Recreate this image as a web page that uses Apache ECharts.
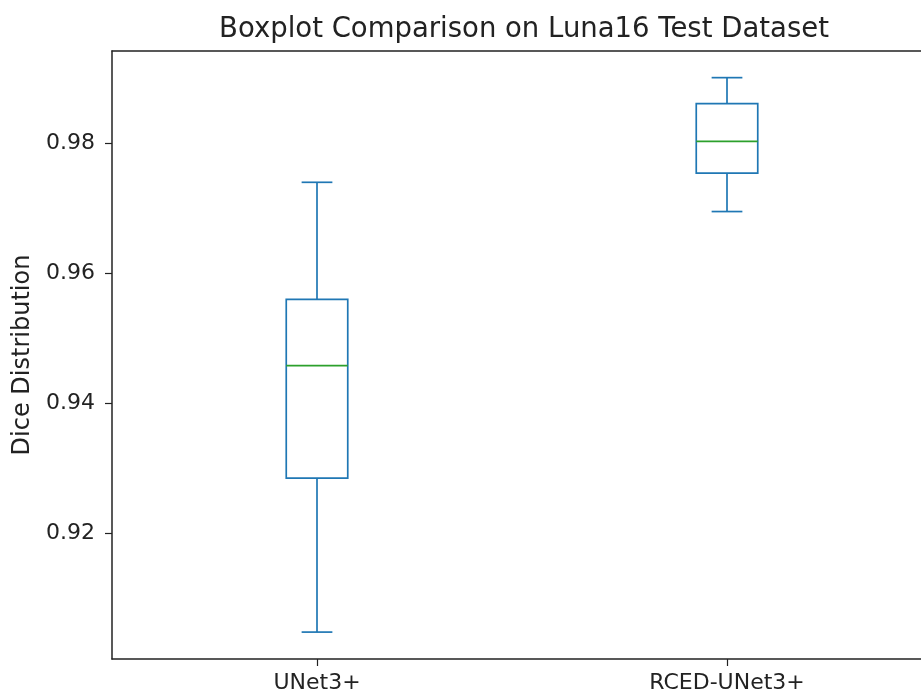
<!DOCTYPE html>
<html>
<head>
<meta charset="utf-8">
<script src="https://cdn.jsdelivr.net/npm/echarts@6/dist/echarts.min.js"></script>
<style>
html,body{margin:0;padding:0;background:#fff;overflow:hidden;width:921px;height:700px;}
#chart{width:940px;height:700px;}
</style>
</head>
<body>
<div id="chart"></div>
<script>
const categories = ['UNet3+', 'RCED-UNet3+'];
// [lower whisker, Q1, median, Q3, upper whisker]
const boxStats = [
  [0.9048, 0.9285, 0.9458, 0.9560, 0.9740],
  [0.9695, 0.9754, 0.9803, 0.9861, 0.9901]
];
const yTicks = [0.92, 0.94, 0.96, 0.98];
const yMin = 0.90066;
const yMax = 0.9942;

const chart = echarts.init(document.getElementById('chart'));
const FONT = 'DejaVu Sans';
const BLUE = '#1f77b4';
const GREEN = '#2ca02c';

const data = boxStats.map((s, i) => [i].concat(s));

chart.setOption({
  animation: false,
  backgroundColor: '#fff',
  title: {
    text: 'Boxplot Comparison on Luna16 Test Dataset',
    left: 519,
    top: 11,
    textAlign: 'center',
    textStyle: { fontFamily: FONT, fontSize: 27.5, fontWeight: 'normal', color: '#222' }
  },
  grid: {
    left: 112, top: 51, width: 820, height: 608,
    show: false
  },
  xAxis: [{
    type: 'category',
    data: categories,
    boundaryGap: true,
    axisLine: { show: true, lineStyle: { color: '#222', width: 1.5 } },
    axisTick: { show: true, alignWithLabel: true, length: 7, lineStyle: { color: '#222', width: 1.2 } },
    axisLabel: { fontFamily: FONT, fontSize: 22, color: '#222', margin: 13 },
    splitLine: { show: false }
  }, {
    type: 'category',
    position: 'top',
    data: categories,
    axisLine: { show: true, lineStyle: { color: '#222', width: 1.5 } },
    axisTick: { show: false },
    axisLabel: { show: false },
    splitLine: { show: false }
  }],
  yAxis: {
    type: 'value',
    min: yMin,
    max: yMax,
    name: 'Dice Distribution',
    nameLocation: 'middle',
    nameGap: 77,
    nameRotate: 90,
    nameTextStyle: { fontFamily: FONT, fontSize: 24, color: '#222' },
    axisLine: { show: true, lineStyle: { color: '#222', width: 1.5 } },
    axisTick: { show: true, length: 7, lineStyle: { color: '#222', width: 1.2 }, customValues: yTicks },
    axisLabel: {
      fontFamily: FONT, fontSize: 22, color: '#222', margin: 17,
      customValues: yTicks,
      formatter: v => v.toFixed(2)
    },
    splitLine: { show: false }
  },
  series: [{
    type: 'custom',
    data: data,
    xAxisIndex: 0,
    encode: { x: 0, y: [1, 2, 3, 4, 5] },
    renderItem: function (params, api) {
      const xi = api.value(0);
      const band = api.size([1, 0])[0];
      const half = band * 0.075;
      const capHalf = half / 2;
      const c = api.coord([xi, api.value(3)])[0];
      const yLo = api.coord([xi, api.value(1)])[1];
      const yQ1 = api.coord([xi, api.value(2)])[1];
      const yMed = api.coord([xi, api.value(3)])[1];
      const yQ3 = api.coord([xi, api.value(4)])[1];
      const yHi = api.coord([xi, api.value(5)])[1];
      const ls = { stroke: BLUE, lineWidth: 1.7, fill: null };
      return {
        type: 'group',
        children: [
          { type: 'rect', shape: { x: c - half, y: yQ3, width: half * 2, height: yQ1 - yQ3 }, style: ls },
          { type: 'line', shape: { x1: c, y1: yQ3, x2: c, y2: yHi }, style: ls },
          { type: 'line', shape: { x1: c, y1: yQ1, x2: c, y2: yLo }, style: ls },
          { type: 'line', shape: { x1: c - capHalf, y1: yHi, x2: c + capHalf, y2: yHi }, style: ls },
          { type: 'line', shape: { x1: c - capHalf, y1: yLo, x2: c + capHalf, y2: yLo }, style: ls },
          { type: 'line', shape: { x1: c - half, y1: yMed, x2: c + half, y2: yMed }, style: { stroke: GREEN, lineWidth: 1.7 } }
        ]
      };
    }
  }]
});
</script>
</body>
</html>
